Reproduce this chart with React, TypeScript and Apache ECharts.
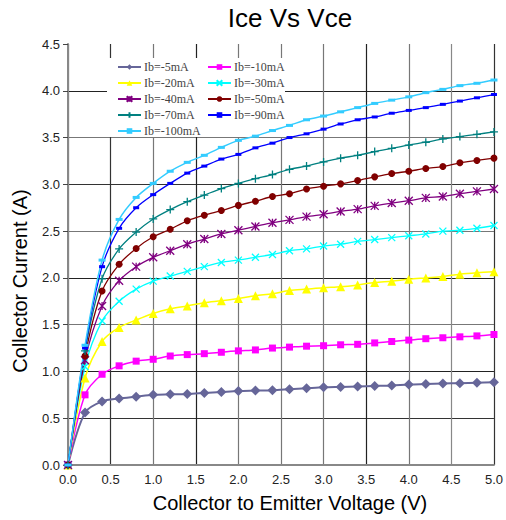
import React, { useEffect, useRef } from "react";
import * as echarts from "echarts";

const vce = [0, 0.2, 0.4, 0.6, 0.8, 1.0, 1.2, 1.4, 1.6, 1.8, 2.0, 2.2, 2.4, 2.6, 2.8, 3.0, 3.2, 3.4, 3.6, 3.8, 4.0, 4.2, 4.4, 4.6, 4.8, 5.0];

const ib5 = [0, 0.56, 0.68, 0.71, 0.73, 0.75, 0.755, 0.76, 0.77, 0.78, 0.79, 0.795, 0.8, 0.81, 0.82, 0.83, 0.835, 0.84, 0.845, 0.85, 0.86, 0.865, 0.87, 0.875, 0.88, 0.885];
const ib10 = [0, 0.75, 0.97, 1.06, 1.11, 1.13, 1.165, 1.18, 1.19, 1.205, 1.22, 1.23, 1.25, 1.26, 1.27, 1.275, 1.285, 1.29, 1.305, 1.32, 1.335, 1.35, 1.36, 1.37, 1.38, 1.395];
const ib20 = [0, 0.93, 1.32, 1.47, 1.55, 1.62, 1.67, 1.7, 1.735, 1.755, 1.78, 1.81, 1.83, 1.865, 1.88, 1.895, 1.905, 1.925, 1.95, 1.965, 1.985, 2.0, 2.015, 2.04, 2.055, 2.065];
const ib30 = [0, 1.05, 1.54, 1.75, 1.88, 1.965, 2.02, 2.07, 2.12, 2.165, 2.19, 2.22, 2.25, 2.29, 2.31, 2.34, 2.36, 2.39, 2.41, 2.43, 2.45, 2.47, 2.5, 2.51, 2.53, 2.56];
const ib40 = [0, 1.12, 1.7, 1.97, 2.12, 2.22, 2.29, 2.36, 2.415, 2.47, 2.51, 2.55, 2.59, 2.62, 2.655, 2.68, 2.71, 2.735, 2.77, 2.8, 2.825, 2.855, 2.87, 2.9, 2.925, 2.95];
const ib50 = [0, 1.165, 1.86, 2.145, 2.315, 2.44, 2.52, 2.61, 2.67, 2.72, 2.775, 2.82, 2.87, 2.9, 2.95, 2.98, 3.005, 3.04, 3.08, 3.115, 3.14, 3.17, 3.19, 3.23, 3.255, 3.28];
const ib70 = [0, 1.22, 1.99, 2.31, 2.49, 2.63, 2.73, 2.815, 2.885, 2.955, 3.01, 3.06, 3.105, 3.16, 3.195, 3.24, 3.28, 3.31, 3.35, 3.385, 3.42, 3.45, 3.485, 3.51, 3.535, 3.56];
const ib90 = [0, 1.25, 2.12, 2.53, 2.75, 2.89, 3.01, 3.12, 3.195, 3.27, 3.32, 3.39, 3.44, 3.5, 3.54, 3.59, 3.645, 3.69, 3.72, 3.76, 3.79, 3.82, 3.855, 3.89, 3.925, 3.96];
const ib100 = [0, 1.28, 2.19, 2.625, 2.86, 3.01, 3.14, 3.235, 3.31, 3.395, 3.47, 3.515, 3.575, 3.63, 3.69, 3.73, 3.775, 3.82, 3.865, 3.9, 3.935, 3.98, 4.015, 4.055, 4.08, 4.115];

const legendCol1 = ["Ib=-5mA", "Ib=-20mA", "Ib=-40mA", "Ib=-70mA", "Ib=-100mA"];
const legendCol2 = ["Ib=-10mA", "Ib=-30mA", "Ib=-50mA", "Ib=-90mA"];

const SYM_X = "path://M0,0L10,10M10,0L0,10";
const SYM_AST = "path://M0,0L10,10M10,0L0,10M5,0L5,10";
const SYM_PLUS = "path://M5,0L5,10M0,5L10,5";

function mk(name: string, values: number[], color: string, symbol: string, symbolSize: any, lineWidth: number, stroke: boolean) {
  return {
    type: "line",
    name,
    data: vce.map((v, i) => [v, values[i]]),
    smooth: 0.3,
    symbol,
    symbolSize,
    showAllSymbol: true,
    lineStyle: { color, width: lineWidth },
    itemStyle: stroke
      ? { color, borderColor: color, borderWidth: 1.3 }
      : { color, borderWidth: 0 },
    z: 3,
  };
}

export default function App() {
  const ref = useRef<HTMLDivElement>(null);
  useEffect(() => {
    const chart = echarts.init(ref.current!, null, { renderer: "svg" });
    const font = "Liberation Sans, Arial, sans-serif";
    const legendBase = {
      orient: "vertical",
      top: 61,
      padding: 0,
      itemWidth: 23,
      itemHeight: 7,
      itemGap: 4,
      z: 6,
      textStyle: { fontFamily: "Liberation Serif, serif", fontSize: 12, color: "#444", padding: [0, 0, 0, -2] },
    };
    chart.setOption({
      animation: false,
      backgroundColor: "#fff",
      grid: { left: 68, right: 6, top: 44, bottom: 55 },
      legend: [
        { ...legendBase, left: 117, data: legendCol1 },
        { ...legendBase, left: 207, data: legendCol2 },
      ],
      graphic: [
        { type: "rect", shape: { x: 107, y: 58, width: 178, height: 79 }, style: { fill: "#fff" }, z: 1 },
        { type: "text", x: 290, y: 18, style: { text: "Ice Vs Vce", font: `26px ${font}`, fill: "#000", align: "center", verticalAlign: "middle" }, z: 5 },
        { type: "text", x: 20, y: 281, rotation: Math.PI / 2, style: { text: "Collector Current (A)", font: `20px ${font}`, fill: "#000", align: "center", verticalAlign: "middle" }, z: 5 },
        { type: "text", x: 290, y: 503, style: { text: "Collector to Emitter Voltage (V)", font: `20px ${font}`, fill: "#000", align: "center", verticalAlign: "middle" }, z: 5 },
      ],
      xAxis: {
        type: "value",
        min: 0,
        max: 5,
        interval: 0.5,
        axisLine: { show: true, lineStyle: { color: "#888", width: 2 } },
        axisTick: { show: false },
        axisLabel: { fontFamily: font, fontSize: 13, color: "#222", margin: 8, formatter: (v: number) => v.toFixed(1) },
        splitLine: { show: true, lineStyle: { color: ["#333", "#333", "#777", "#222", "#777", "#777", "#777", "#222", "#777", "#888"], width: 1.2 } },
      },
      yAxis: {
        type: "value",
        min: 0,
        max: 4.5,
        interval: 0.5,
        axisLine: { show: true, lineStyle: { color: "#888", width: 2 } },
        axisTick: { show: true, inside: false, length: 5, lineStyle: { color: "#444" } },
        axisLabel: { fontFamily: font, fontSize: 13, color: "#222", margin: 8, formatter: (v: number) => v.toFixed(1) },
        splitLine: { show: true, showMaxLine: false, lineStyle: { color: ["#888", "#333", "#222", "#777", "#222", "#777", "#333", "#777", "#222", "#777"], width: 1.2 } },
      },
      series: [
        mk("Ib=-5mA", ib5, "#666699", "diamond", 10, 2, false),
        mk("Ib=-10mA", ib10, "#FF00FF", "rect", 7, 1.5, false),
        mk("Ib=-20mA", ib20, "#FFFF00", "triangle", 9, 1.5, false),
        mk("Ib=-30mA", ib30, "#00FFFF", SYM_X, 7, 1.3, true),
        mk("Ib=-40mA", ib40, "#800080", SYM_AST, 8, 1.3, true),
        mk("Ib=-50mA", ib50, "#800000", "circle", 7, 1.3, false),
        mk("Ib=-70mA", ib70, "#008080", SYM_PLUS, 8, 1.3, true),
        mk("Ib=-90mA", ib90, "#0000FF", "rect", [6, 3], 1.3, false),
        mk("Ib=-100mA", ib100, "#33CCFF", "rect", [7, 3], 1.5, false),
      ],
    });
    return () => chart.dispose();
  }, []);
  return <div ref={ref} style={{ position: "fixed", left: 0, top: 0, width: 506, height: 520 }} />;
}
